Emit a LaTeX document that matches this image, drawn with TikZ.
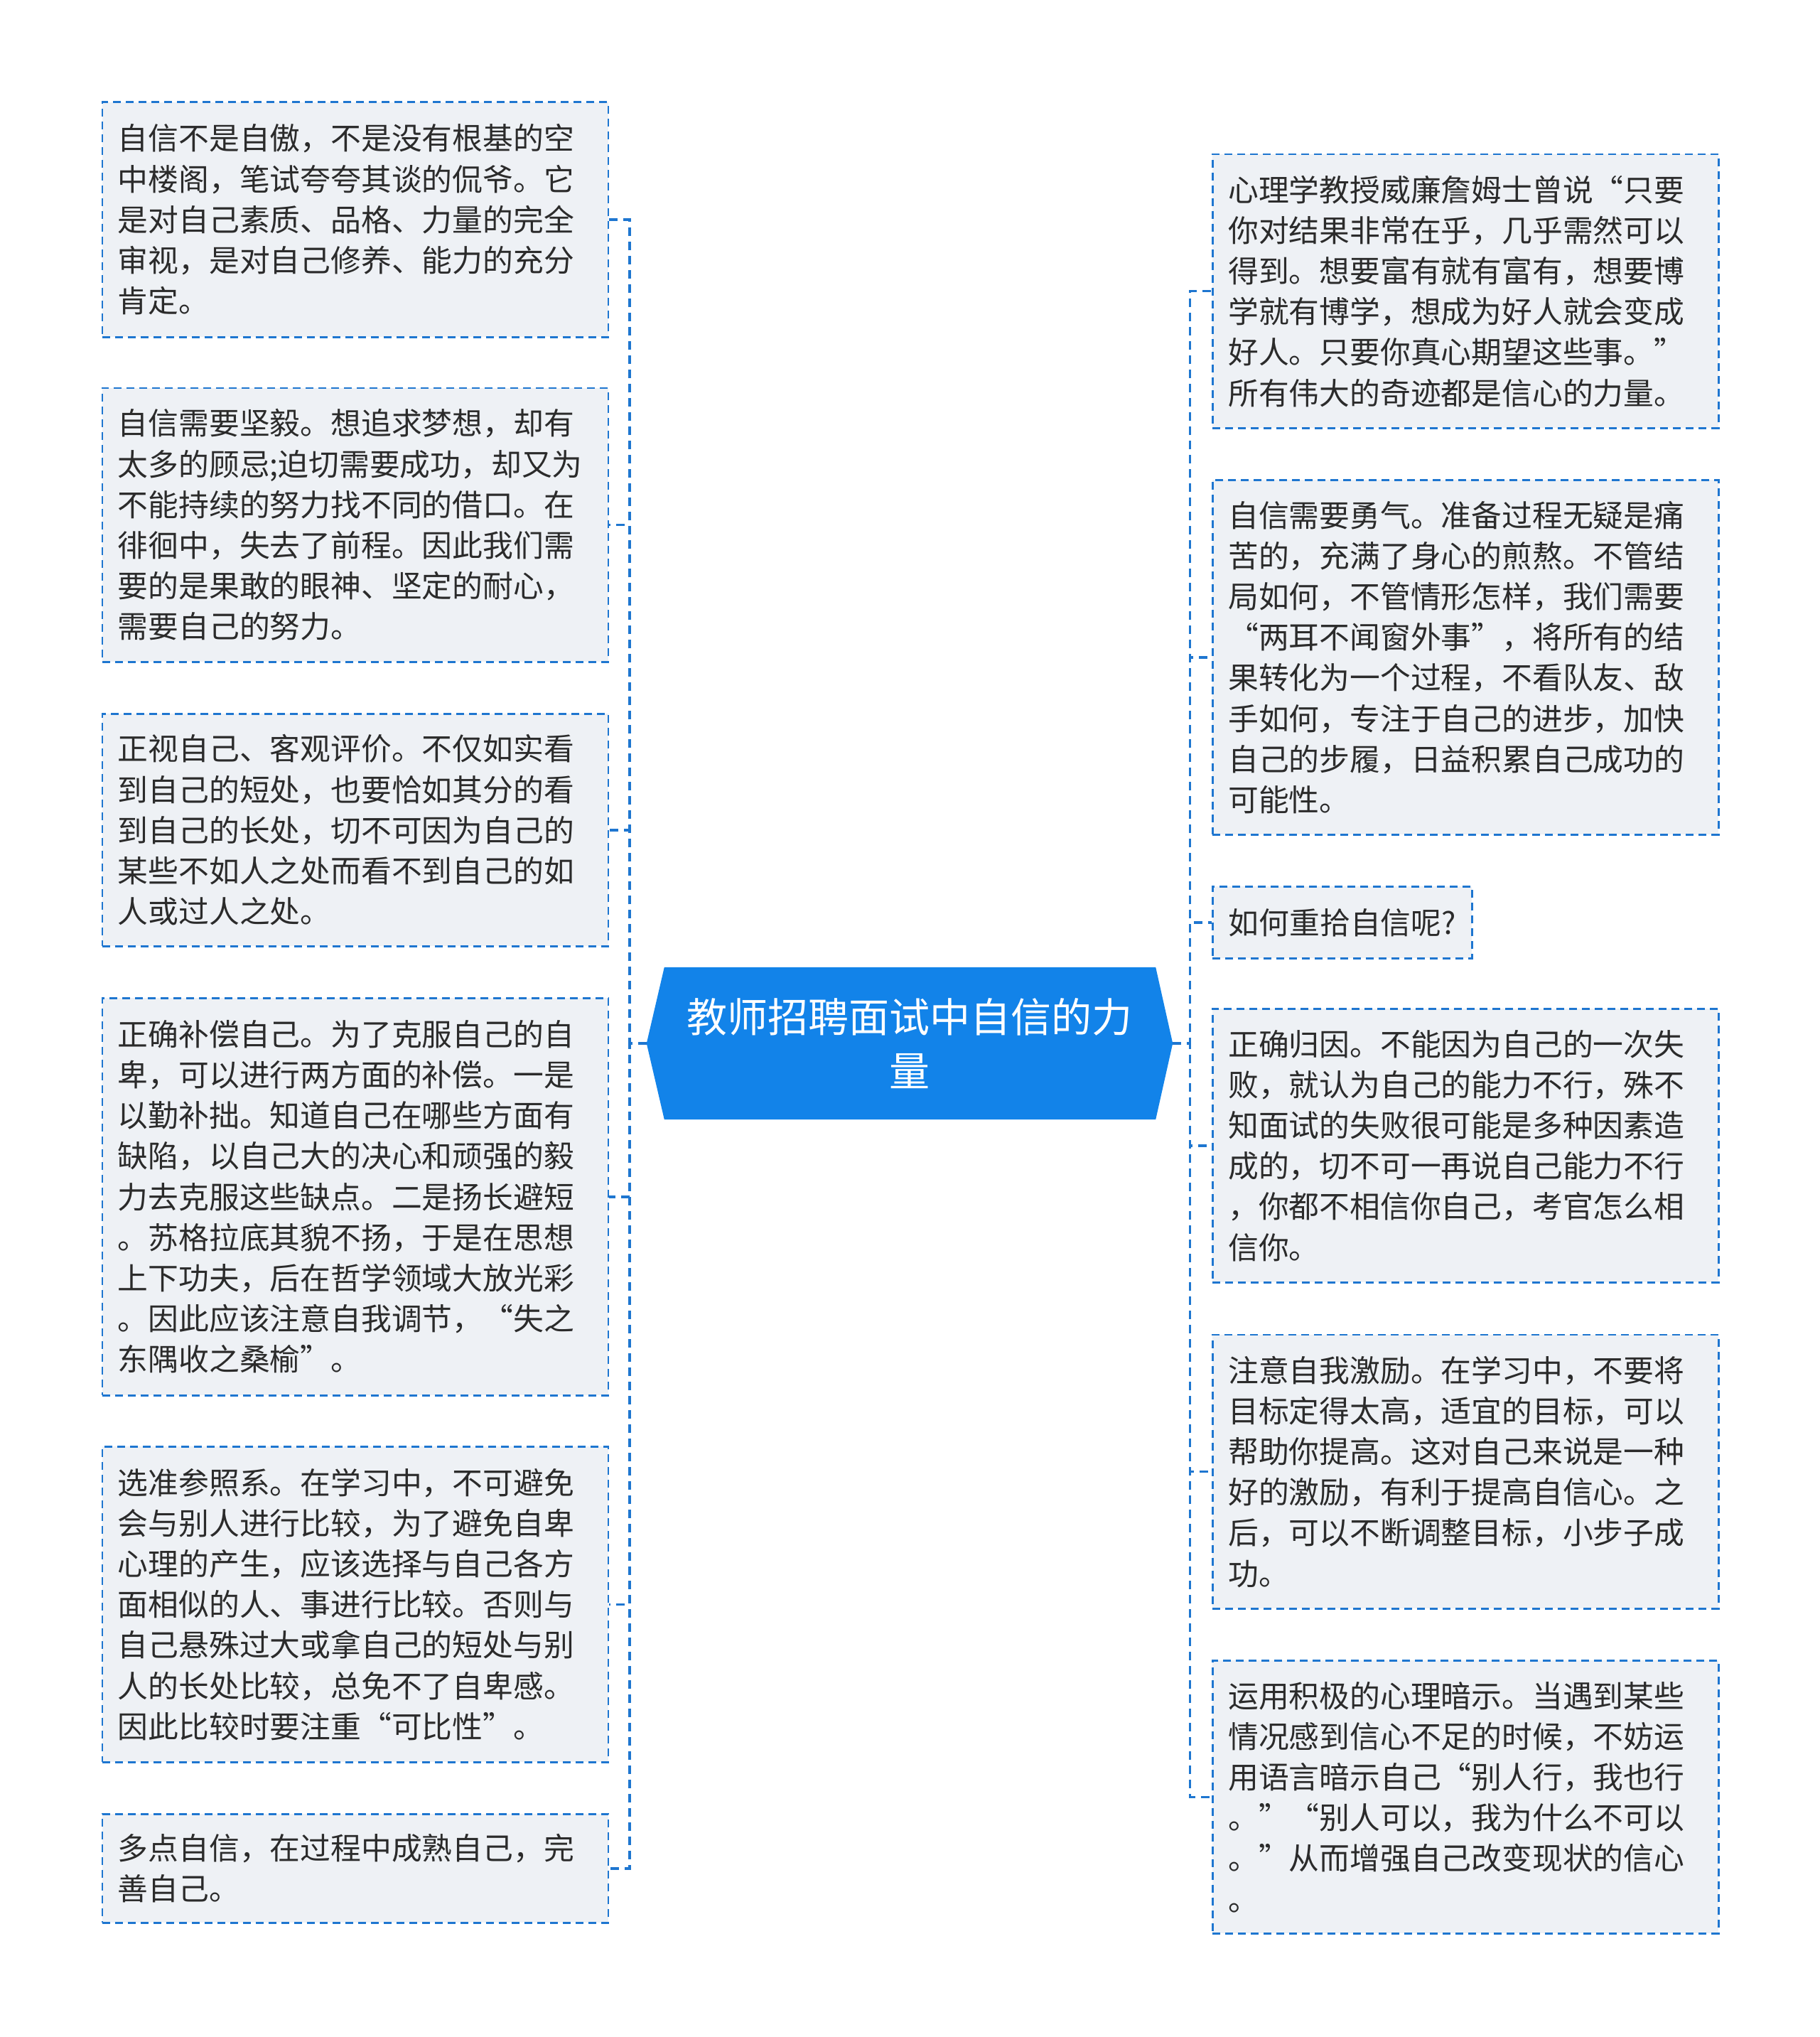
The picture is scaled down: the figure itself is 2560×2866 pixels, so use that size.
\documentclass[tikz,border=0pt]{standalone}
\usepackage{fontspec}
\setmainfont{Noto Sans CJK SC}
\usetikzlibrary{backgrounds}
\definecolor{boxfill}{HTML}{EEF1F5}
\definecolor{boxline}{HTML}{1E76D0}
\definecolor{txt}{HTML}{2B2B2B}
\definecolor{cfill}{HTML}{1283E9}
\tikzset{
  box/.style={draw=boxline, fill=boxfill, line width=2.6pt, dash pattern=on 11pt off 7pt,
    inner xsep=22pt, inner ysep=0pt, anchor=north west, text=txt,
    font=\fontsize{42.8pt}{57.2pt}\selectfont},
  wide/.style={text width=668pt, align=left},
  conn/.style={draw=boxline, line width=3.4pt, dash pattern=on 12pt off 8pt},
  centre/.style={minimum width=740pt, minimum height=214pt, inner sep=0pt, text=white,
    text width=680pt, align=center, font=\fontsize{57pt}{76.7pt}\selectfont}
}
\begin{document}
\begin{tikzpicture}[x=1pt,y=-1pt]
\useasboundingbox (0,0) rectangle (2560,2866);

% centre
\node[centre] (c) at (1280,1468) {教师招聘面试中自信的力\\量};
\begin{scope}[on background layer]
\fill[white] (0,0) rectangle (2560,2866);
\fill[cfill] ([xshift=25pt]c.north west) -- ([xshift=-24pt]c.north east) -- (c.east)
  -- ([xshift=-24pt]c.south east) -- ([xshift=25pt]c.south west) -- (c.west) -- cycle;
\end{scope}

% left column
\node[box,wide,minimum height=330.5pt] (L1) at (142.5,142.5) {自信不是自傲，不是没有根基的空\\中楼阁，笔试夸夸其谈的侃爷。它\\是对自己素质、品格、力量的完全\\审视，是对自己修养、能力的充分\\肯定。};
\node[box,wide,minimum height=385.5pt] (L2) at (142.5,544.5) {自信需要坚毅。想追求梦想，却有\\太多的顾忌;迫切需要成功，却又为\\不能持续的努力找不同的借口。在\\徘徊中，失去了前程。因此我们需\\要的是果敢的眼神、坚定的耐心，\\需要自己的努力。};
\node[box,wide,minimum height=327pt] (L3) at (142.5,1003) {正视自己、客观评价。不仅如实看\\到自己的短处，也要恰如其分的看\\到自己的长处，切不可因为自己的\\某些不如人之处而看不到自己的如\\人或过人之处。};
\node[box,wide,minimum height=559pt] (L4) at (142.5,1403) {正确补偿自己。为了克服自己的自\\卑，可以进行两方面的补偿。一是\\以勤补拙。知道自己在哪些方面有\\缺陷，以自己大的决心和顽强的毅\\力去克服这些缺点。二是扬长避短\\。苏格拉底其貌不扬，于是在思想\\上下功夫，后在哲学领域大放光彩\\。因此应该注意自我调节，“失之\\东隅收之桑榆”。};
\node[box,wide,minimum height=444pt] (L5) at (142.5,2034) {选准参照系。在学习中，不可避免\\会与别人进行比较，为了避免自卑\\心理的产生，应该选择与自己各方\\面相似的人、事进行比较。否则与\\自己悬殊过大或拿自己的短处与别\\人的长处比较，总免不了自卑感。\\因此比较时要注重“可比性”。};
\node[box,wide,minimum height=153pt] (L6) at (142.5,2551) {多点自信，在过程中成熟自己，完\\善自己。};

% right column
\node[box,wide,minimum height=385.5pt] (R1) at (1705,215.6) {心理学教授威廉詹姆士曾说“只要\\你对结果非常在乎，几乎需然可以\\得到。想要富有就有富有，想要博\\学就有博学，想成为好人就会变成\\好人。只要你真心期望这些事。”\\所有伟大的奇迹都是信心的力量。};
\node[box,wide,minimum height=499pt] (R2) at (1705,674) {自信需要勇气。准备过程无疑是痛\\苦的，充满了身心的煎熬。不管结\\局如何，不管情形怎样，我们需要\\“两耳不闻窗外事”，将所有的结\\果转化为一个过程，不看队友、敌\\手如何，专注于自己的进步，加快\\自己的步履，日益积累自己成功的\\可能性。};
\node[box,minimum width=365pt,minimum height=101pt,align=left] (R3) at (1705,1246) {如何重拾自信呢?};
\node[box,wide,minimum height=385pt] (R4) at (1705,1418) {正确归因。不能因为自己的一次失\\败，就认为自己的能力不行，殊不\\知面试的失败很可能是多种因素造\\成的，切不可一再说自己能力不行\\，你都不相信你自己，考官怎么相\\信你。};
\node[box,wide,minimum height=385.5pt] (R5) at (1705,1876.5) {注意自我激励。在学习中，不要将\\目标定得太高，适宜的目标，可以\\帮助你提高。这对自己来说是一种\\好的激励，有利于提高自信心。之\\后，可以不断调整目标，小步子成\\功。};
\node[box,wide,minimum height=384pt] (R6) at (1705,2335) {运用积极的心理暗示。当遇到某些\\情况感到信心不足的时候，不妨运\\用语言暗示自己“别人行，我也行\\。”“别人可以，我为什么不可以\\。”从而增强自己改变现状的信心\\。};

% connectors
\foreach \n in {L1,L2,L3,L4,L5,L6}
  \draw[conn] (c.west) -- ++(-24,0) |- (\n.east);
\foreach \n in {R1,R2,R3,R4,R5,R6}
  \draw[conn] (c.east) -- ++(24,0) |- (\n.west);
\end{tikzpicture}
\end{document}
